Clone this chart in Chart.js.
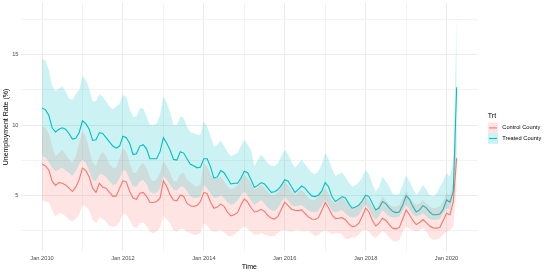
<!DOCTYPE html>
<html>
<head>
<meta charset="utf-8">
<script src="https://cdn.jsdelivr.net/npm/chart.js@4.4.1/dist/chart.umd.min.js"></script>
<style>
  html, body { margin: 0; padding: 0; background: #fff; }
  #wrap { width: 548px; height: 274px; position: relative; }
</style>
</head>
<body>
<div id="wrap"><canvas id="grafica"></canvas></div>
<script>
// meses desde ene 2010 hasta abr 2020
const years = [2010, 2011, 2012, 2013, 2014, 2015, 2016, 2017, 2018, 2019, 2020];
const monthsLastYear = 4;

// Treated County
const treatedRate = [
  11.2, 11.1, 10.7, 9.8, 9.5, 9.7, 9.8, 9.7, 9.4, 9.0, 9.05, 9.45,
  10.3, 10.1, 9.7, 8.9, 8.95, 9.45, 9.4, 9.1, 8.8, 8.5, 8.35, 8.5,
  9.2, 9.1, 8.7, 7.9, 7.95, 8.5, 8.6, 8.3, 7.6, 7.6, 7.6, 8.1,
  9.1, 8.7, 8.2, 7.55, 7.5, 8.1, 8.0, 7.6, 7.2, 7.1, 6.95, 7.0,
  7.6, 7.6, 7.0, 6.2, 6.3, 6.75, 6.6, 6.2, 5.8, 5.85, 5.85, 6.2,
  6.7, 6.6, 6.1, 5.55, 5.7, 5.9, 5.8, 5.5, 5.2, 5.25, 5.4, 5.7,
  6.1, 6.0, 5.6, 5.2, 5.4, 5.65, 5.5, 5.2, 4.95, 4.9, 5.0, 5.3,
  5.9, 5.6, 4.9, 4.55, 4.7, 4.9, 4.8, 4.4, 4.07, 4.15, 4.3, 4.6,
  5.0, 4.9, 4.4, 3.95, 4.1, 4.55, 4.4, 4.1, 3.85, 3.76, 3.8, 4.3,
  4.95, 4.7, 4.2, 3.8, 3.95, 4.25, 4.1, 3.8, 3.6, 3.6, 3.65, 4.0,
  4.66, 4.5, 5.26, 12.7
];
const treatedLower = [
  7.8, 7.7, 7.4, 6.95, 6.7, 6.85, 6.95, 6.75, 6.6, 6.36, 6.7, 7.2,
  7.55, 7.3, 6.7, 6.1, 6.0, 6.48, 6.5, 6.3, 6.0, 5.73, 5.8, 6.2,
  6.8, 6.7, 6.1, 5.62, 5.62, 6.0, 6.1, 5.8, 5.26, 5.1, 5.2, 5.5,
  6.36, 6.1, 5.73, 5.4, 5.3, 5.62, 5.6, 5.3, 4.93, 4.8, 4.8, 4.9,
  5.73, 5.5, 5.1, 4.8, 4.85, 5.0, 4.8, 4.5, 4.31, 4.4, 4.6, 5.0,
  5.26, 5.0, 4.6, 4.31, 4.5, 4.66, 4.4, 4.1, 3.95, 3.88, 4.1, 4.5,
  4.9, 4.6, 4.3, 4.19, 4.25, 4.3, 4.1, 3.9, 3.8, 3.76, 3.9, 4.3,
  4.66, 4.3, 3.9, 3.76, 3.85, 3.95, 3.7, 3.5, 3.4, 3.45, 3.6, 4.0,
  4.31, 4.0, 3.5, 3.24, 3.5, 3.95, 3.7, 3.5, 3.4, 3.4, 3.5, 3.9,
  4.31, 4.0, 3.6, 3.48, 3.55, 3.71, 3.5, 3.3, 3.24, 3.25, 3.3, 3.7,
  4.07, 4.0, 4.9, 8.0
];
const treatedUpper = [
  14.7, 14.6, 13.95, 12.8, 12.4, 12.6, 12.75, 12.4, 11.9, 11.8, 12.2, 12.5,
  13.5, 13.2, 12.6, 11.7, 11.7, 12.2, 12.0, 11.7, 11.33, 11.1, 11.33, 11.5,
  12.16, 12.0, 11.1, 10.6, 10.6, 11.2, 11.2, 10.6, 10.0, 10.0, 10.1, 10.7,
  12.04, 11.6, 10.9, 10.0, 10.0, 10.6, 10.5, 9.9, 9.47, 9.43, 9.3, 9.3,
  10.26, 9.9, 9.2, 8.47, 8.6, 8.9, 8.5, 8.1, 7.76, 7.9, 8.0, 8.5,
  8.95, 8.6, 8.24, 7.07, 7.5, 7.9, 7.6, 7.3, 7.1, 7.07, 7.3, 7.8,
  8.24, 7.9, 7.4, 6.95, 7.2, 7.55, 7.2, 6.9, 6.6, 6.5, 6.7, 7.2,
  8.0, 7.6, 6.9, 6.36, 6.5, 6.6, 6.3, 5.9, 5.62, 5.7, 5.9, 6.3,
  6.8, 6.5, 5.8, 5.26, 5.6, 6.33, 6.0, 5.6, 5.1, 5.02, 5.1, 5.8,
  6.38, 6.0, 5.5, 5.02, 5.3, 5.73, 5.4, 5.0, 4.9, 5.1, 5.6, 6.0,
  6.57, 6.33, 7.29, 17.9
];

// Control County
const controlRate = [
  7.2, 7.1, 6.8, 6.0, 5.7, 5.9, 5.85, 5.73, 5.5, 5.26, 5.57, 6.09,
  6.93, 6.75, 6.3, 5.5, 5.2, 5.85, 5.57, 5.5, 5.2, 4.93, 4.93, 5.5,
  6.02, 5.95, 5.26, 4.79, 4.71, 5.14, 5.2, 4.93, 4.5, 4.48, 4.55, 4.79,
  6.02, 5.62, 5.02, 4.66, 4.6, 5.02, 4.93, 4.43, 4.24, 4.19, 4.26, 4.55,
  5.2, 5.1, 4.5, 4.07, 4.15, 4.36, 4.2, 3.8, 3.52, 3.6, 3.75, 4.3,
  4.73, 4.5, 4.1, 3.8, 3.85, 3.99, 3.85, 3.55, 3.35, 3.29, 3.5, 4.0,
  4.5, 4.25, 4.0, 3.93, 3.9, 3.95, 3.7, 3.45, 3.3, 3.27, 3.4, 3.9,
  4.48, 4.1, 3.6, 3.33, 3.35, 3.4, 3.25, 2.95, 2.76, 2.8, 3.0, 3.5,
  4.07, 3.8, 3.2, 2.8, 3.0, 3.36, 3.2, 2.9, 2.65, 2.6, 2.7, 3.3,
  3.95, 3.6, 3.2, 2.9, 3.05, 3.26, 3.05, 2.8, 2.67, 2.65, 2.7, 3.2,
  3.71, 3.6, 4.54, 7.64
];
const controlLower = [
  4.66, 4.55, 4.5, 3.95, 3.48, 3.71, 3.7, 3.5, 3.24, 3.13, 3.3, 3.6,
  4.31, 4.2, 3.9, 3.24, 3.0, 3.4, 3.3, 3.1, 2.8, 2.75, 2.78, 3.1,
  3.7, 3.6, 3.24, 2.76, 2.66, 3.0, 3.05, 2.8, 2.4, 2.29, 2.4, 2.7,
  3.48, 3.3, 3.0, 2.52, 2.4, 2.6, 2.6, 2.4, 2.3, 2.17, 2.17, 2.3,
  3.0, 2.8, 2.5, 2.4, 2.45, 2.5, 2.35, 2.15, 2.07, 2.2, 2.4, 2.6,
  2.76, 2.6, 2.4, 2.17, 2.2, 2.3, 2.2, 2.1, 2.05, 2.1, 2.3, 2.5,
  2.5, 2.45, 2.4, 2.5, 2.5, 2.45, 2.4, 2.5, 2.3, 2.07, 2.2, 2.4,
  2.5, 2.4, 2.2, 2.3, 2.3, 2.2, 1.86, 1.9, 2.0, 2.0, 2.2, 2.5,
  2.52, 2.4, 2.1, 1.93, 2.2, 2.43, 2.3, 2.0, 1.75, 1.69, 1.8, 2.4,
  2.76, 2.6, 2.5, 2.43, 2.5, 2.64, 2.4, 2.0, 1.81, 1.85, 1.93, 2.2,
  2.4, 2.5, 2.76, 5.5
];
const controlUpper = [
  9.9, 9.8, 9.4, 8.47, 7.76, 8.0, 8.24, 7.9, 7.55, 7.3, 7.76, 8.7,
  9.54, 9.2, 8.24, 7.3, 7.07, 7.76, 8.1, 7.76, 7.2, 6.95, 6.95, 7.64,
  8.35, 8.1, 7.3, 6.6, 6.6, 7.07, 7.3, 6.95, 6.24, 6.0, 6.1, 6.6,
  7.43, 7.07, 6.6, 6.0, 6.0, 6.5, 6.6, 6.1, 5.9, 5.7, 5.6, 5.8,
  7.3, 7.0, 6.5, 6.1, 6.2, 6.3, 6.0, 5.6, 5.4, 5.5, 5.7, 6.1,
  6.48, 6.2, 5.8, 5.4, 5.5, 5.75, 5.5, 5.2, 5.02, 5.0, 5.2, 5.6,
  6.0, 5.7, 5.3, 5.02, 5.2, 5.4, 5.1, 4.8, 4.66, 4.66, 4.9, 5.2,
  5.5, 5.1, 4.6, 4.43, 4.6, 4.9, 4.6, 4.3, 4.07, 4.1, 4.3, 4.6,
  4.9, 4.6, 4.2, 3.95, 4.4, 4.9, 4.6, 4.3, 4.19, 4.19, 4.3, 4.8,
  5.26, 4.9, 4.5, 4.31, 4.4, 4.66, 4.4, 4.2, 4.07, 4.1, 4.2, 4.6,
  5.14, 5.0, 6.1, 10.5
];

// etiquetas de los ejes
const xTickMonths = [0, 24, 48, 72, 96, 120];
const xTickLabels = ['Jan 2010', 'Jan 2012', 'Jan 2014', 'Jan 2016', 'Jan 2018', 'Jan 2020'];
const xMinorMonths = [12, 36, 60, 84, 108];
const yTicks = [5, 10, 15];
const yMinorTicks = [2.5, 7.5, 12.5, 17.5];

const groups = ['Control County', 'Treated County'];
const lineColors = ['#F8766D', '#00BFC4'];
const fillColors = ['rgba(248,118,109,0.2)', 'rgba(0,191,196,0.2)'];

// índice de mes (0 = ene 2010)
const monthIndex = [];
years.forEach((y, k) => {
  const n = k === years.length - 1 ? monthsLastYear : 12;
  for (let m = 0; m < n; m++) monthIndex.push(k * 12 + m);
});
const pts = arr => arr.map((v, i) => ({ x: monthIndex[i], y: v }));

const FONT = '"Liberation Sans", Arial, sans-serif';

// textos estilo ggplot: ticks, títulos y leyenda
const ggDecor = {
  id: 'ggDecor',
  afterDraw(chart) {
    const ctx = chart.ctx;
    const xs = chart.scales.x, ys = chart.scales.y, area = chart.chartArea;
    ctx.save();
    ctx.fillStyle = '#4D4D4D';
    ctx.font = '5.7px ' + FONT;
    ctx.textAlign = 'right';
    ctx.textBaseline = 'middle';
    yTicks.forEach(v => ctx.fillText(String(v), 18.5, ys.getPixelForValue(v)));
    ctx.textAlign = 'center';
    xTickMonths.forEach((m, i) => ctx.fillText(xTickLabels[i], xs.getPixelForValue(m), 258.5));

    ctx.fillStyle = '#000';
    ctx.font = '7px ' + FONT;
    ctx.fillText('Time', (area.left + area.right) / 2, 266.8);
    ctx.save();
    ctx.translate(5.6, (area.top + area.bottom) / 2);
    ctx.rotate(-Math.PI / 2);
    ctx.fillText('Unemployment Rate (%)', 0, 0);
    ctx.restore();

    // leyenda
    ctx.textAlign = 'left';
    ctx.fillText('Trt', 487.8, 115.8);
    const kx = 488, kw = 10, kh = 10.6, ky0 = 122.6;
    groups.forEach((g, i) => {
      const ky = ky0 + i * kh;
      ctx.fillStyle = fillColors[i];
      ctx.fillRect(kx, ky, kw, kh);
      ctx.strokeStyle = lineColors[i];
      ctx.lineWidth = 1.1;
      ctx.beginPath();
      ctx.moveTo(kx + 1, ky + kh / 2);
      ctx.lineTo(kx + kw - 1, ky + kh / 2);
      ctx.stroke();
      ctx.fillStyle = '#000';
      ctx.font = '5.7px ' + FONT;
      ctx.fillText(g, 502.3, ky + kh / 2);
    });
    ctx.restore();
  }
};

const ribbon = (data, color, fill, order) => ({
  data: pts(data),
  borderWidth: 0,
  borderColor: 'rgba(0,0,0,0)',
  backgroundColor: color,
  pointRadius: 0,
  fill: fill,
  order: order
});
const line = (data, color, order) => ({
  data: pts(data),
  borderColor: color,
  borderWidth: 1.1,
  pointRadius: 0,
  fill: false,
  tension: 0,
  order: order
});

const gridColor = ctx => {
  const v = ctx.tick && ctx.tick.value;
  return (ctx.scale.axis === 'y' ? yTicks : xTickMonths).includes(v) ? '#EBEBEB' : '#F3F3F3';
};

new Chart(document.getElementById('grafica'), {
  type: 'line',
  data: {
    datasets: [
      ribbon(treatedUpper, fillColors[1], '+1', 0),
      ribbon(treatedLower, fillColors[1], false, 1),
      ribbon(controlUpper, fillColors[0], '+1', 2),
      ribbon(controlLower, fillColors[0], false, 3),
      line(treatedRate, lineColors[1], 4),
      line(controlRate, lineColors[0], 5)
    ]
  },
  options: {
    responsive: true,
    maintainAspectRatio: false,
    animation: false,
    layout: { padding: { left: 21.3, top: 3, right: 548 - 477.4, bottom: 274 - 251 } },
    plugins: { legend: { display: false }, tooltip: { enabled: false } },
    scales: {
      x: {
        type: 'linear',
        min: -6.15,
        max: 129.15,
        afterBuildTicks: s => { s.ticks = xTickMonths.concat(xMinorMonths).map(v => ({ value: v })); },
        ticks: { display: false },
        border: { display: false },
        grid: { color: gridColor, lineWidth: 1, drawTicks: false }
      },
      y: {
        type: 'linear',
        min: 1.02,
        max: 18.7,
        afterBuildTicks: s => { s.ticks = yTicks.concat(yMinorTicks).map(v => ({ value: v })); },
        ticks: { display: false },
        border: { display: false },
        grid: { color: gridColor, lineWidth: 1, drawTicks: false }
      }
    }
  },
  plugins: [ggDecor]
});
</script>
</body>
</html>
